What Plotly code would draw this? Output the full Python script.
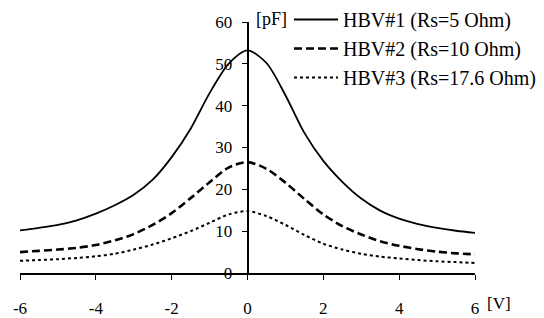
import plotly.graph_objects as go

V = [-6, -5.5, -5, -4.5, -4, -3.5, -3, -2.5, -2, -1.5, -1, -0.5, 0,
     0.5, 1, 1.5, 2, 2.5, 3, 3.5, 4, 4.5, 5, 5.5, 6]
HBV1 = [10.2, 10.8, 11.5, 12.6, 14.2, 16.2, 18.7, 22.3, 27.7, 34.5, 43.0, 50.0, 53.2,
        50.2, 42.5, 33.5, 26.8, 21.8, 17.8, 14.9, 13.0, 11.7, 10.8, 10.1, 9.6]
HBV2 = [5.0, 5.3, 5.6, 6.0, 6.7, 7.8, 9.3, 11.5, 14.3, 17.9, 21.7, 25.2, 26.5,
        24.9, 21.6, 17.7, 14.0, 11.2, 9.2, 7.6, 6.5, 5.7, 5.1, 4.7, 4.45]
HBV3 = [2.9, 3.1, 3.3, 3.6, 4.0, 4.6, 5.6, 6.8, 8.3, 10.0, 12.0, 14.0, 14.8,
        13.6, 11.5, 9.1, 7.0, 5.6, 4.6, 3.9, 3.5, 3.1, 2.8, 2.6, 2.4]
NAMES = ["HBV#1 (Rs=5 Ohm)", "HBV#2 (Rs=10 Ohm)", "HBV#3 (Rs=17.6 Ohm)"]
X_TICKS = [-6, -4, -2, 0, 2, 4, 6]
Y_TICKS = [0, 10, 20, 30, 40, 50, 60]

FONT = "Liberation Serif, Times New Roman, serif"

fig = go.Figure()
styles = [dict(width=1.8, dash="solid"),
          dict(width=2.6, dash="8px,4px"),
          dict(width=2.0, dash="3px,3px")]
for i, (ys, name, st) in enumerate(zip([HBV1, HBV2, HBV3], NAMES, styles)):
    fig.add_trace(go.Scatter(
        x=V, y=ys, mode="lines", name=name, legendgroup=f"g{i}",
        line=dict(color="black", shape="spline", smoothing=0.8, **st),
    ))

fig.update_layout(
    width=544, height=318,
    margin=dict(l=20, r=69, t=22, b=45, autoexpand=False),
    paper_bgcolor="white", plot_bgcolor="white",
    font=dict(family=FONT, color="black", size=17),
    showlegend=True,
    legend=dict(
        xref="container", yref="container",
        x=289 / 544, xanchor="left", y=1.0, yanchor="top",
        font=dict(family=FONT, size=20, color="black"),
        bgcolor="rgba(0,0,0,0)", borderwidth=0,
        tracegroupgap=0, itemwidth=44,
    ),
    xaxis=dict(
        range=[-6, 6], tickvals=X_TICKS, ticktext=[str(v) for v in X_TICKS],
        automargin=False,
        showgrid=False, zeroline=False, showline=True, linecolor="black", linewidth=1.5,
        ticks="outside", ticklen=5, tickwidth=1.2, tickcolor="black",
        ticklabelstandoff=14, tickfont=dict(size=17),
    ),
    yaxis=dict(
        range=[0, 60], tickvals=Y_TICKS, ticktext=[str(v) for v in Y_TICKS],
        anchor="free", position=0.5, automargin=False,
        showgrid=False, zeroline=False, showline=True, linecolor="black", linewidth=1.5,
        ticks="outside", ticklen=5, tickwidth=1.2, tickcolor="black",
        ticklabelstandoff=6, tickfont=dict(size=17),
    ),
    annotations=[
        dict(text="[pF]", xref="paper", yref="paper", x=0.515, y=1.01,
             xanchor="left", yanchor="middle", showarrow=False,
             font=dict(family=FONT, size=18, color="black")),
        dict(text="[V]", xref="paper", yref="paper", x=1.022, y=-0.12,
             xanchor="left", yanchor="middle", showarrow=False,
             font=dict(family=FONT, size=17, color="black")),
    ],
)

fig.write_html("out.html", config={"displayModeBar": False},
               post_script="document.body.style.margin='0';")
